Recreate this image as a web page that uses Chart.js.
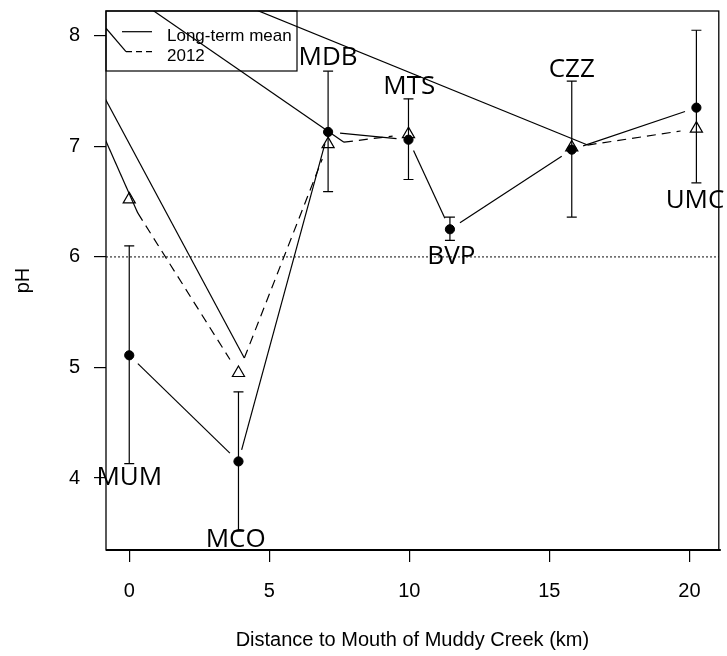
<!DOCTYPE html>
<html>
<head>
<meta charset="utf-8">
<script src="https://cdn.jsdelivr.net/npm/chart.js@4.4.1/dist/chart.umd.min.js"></script>
<style>
  html, body { margin: 0; padding: 0; background: #fff; }
</style>
</head>
<body>
<canvas id="ph-chart" width="727" height="656"></canvas>
<script>
const stations = ["MUM", "MCO", "MDB", "MTS", "BVP", "CZZ", "UMC"];
const distanceKm = [0, 3.9, 7.1, 9.97, 11.45, 15.8, 20.25];
const meanPH = [5.11, 4.15, 7.13, 7.06, 6.25, 6.97, 7.35];
const meanLow = [4.13, 3.52, 6.59, 6.70, 6.15, 6.36, 6.67];
const meanHigh = [6.10, 4.78, 7.68, 7.43, 6.36, 7.59, 8.05];
const ph2012 = [6.52, 4.95, 7.02, 7.11, null, 6.99, 7.16];
const labelX = [0, 3.8, 7.1, 10.0, 11.5, 15.8, 20.2];
const labelY = [4.0, 3.44, 7.8, 7.54, 6.0, 7.69, 6.51];
const xTicks = [0, 5, 10, 15, 20];
const yTicks = [4, 5, 6, 7, 8];
const refPH = 6;
// every dashed stroke gets a stray solid line running in from this point
const strayFrom = { x: -4.54, y: 9.17 };

const SANS = "Arial, 'Liberation Sans', sans-serif";
const LABEL_FONT = "26px 'Open Sans', 'Noto Sans', sans-serif";
const GAP_SOLID = 12;
const GAP_DASH = 16;
const DASH = [9, 6];

function toPixels(chart, ys) {
  const sx = chart.scales.x, sy = chart.scales.y;
  return ys.map((v, i) => v == null ? null : {
    x: sx.getPixelForValue(distanceKm[i]),
    y: sy.getPixelForValue(v),
  });
}

// segments between consecutive points, shortened so they stop short of each marker
function gapped(pts, gap) {
  const segs = [];
  for (let i = 0; i < pts.length - 1; i++) {
    const a = pts[i], b = pts[i + 1];
    if (!a || !b) continue;
    const dx = b.x - a.x, dy = b.y - a.y;
    const len = Math.hypot(dx, dy);
    if (len <= gap * 2) continue;
    const ux = dx / len, uy = dy / len;
    segs.push([a.x + ux * gap, a.y + uy * gap, b.x - ux * gap, b.y - uy * gap]);
  }
  return segs;
}

function line(ctx, x1, y1, x2, y2) {
  ctx.beginPath();
  ctx.moveTo(x1, y1);
  ctx.lineTo(x2, y2);
  ctx.stroke();
}

const plotExtras = {
  id: "plotExtras",
  beforeDatasetsDraw(chart) {
    const { ctx, chartArea: a, scales } = chart;
    ctx.save();
    ctx.beginPath();
    ctx.rect(a.left, a.top, a.right - a.left, a.bottom - a.top);
    ctx.clip();
    ctx.strokeStyle = "#000";
    ctx.lineWidth = 1.2;

    // reference line
    const yRef = scales.y.getPixelForValue(refPH);
    ctx.save();
    ctx.strokeStyle = "#444";
    ctx.lineWidth = 1.3;
    ctx.setLineDash([2, 2]);
    line(ctx, a.left, yRef, a.right, yRef);
    ctx.restore();

    // error bars
    distanceKm.forEach((d, i) => {
      const x = scales.x.getPixelForValue(d);
      const lo = scales.y.getPixelForValue(meanLow[i]);
      const hi = scales.y.getPixelForValue(meanHigh[i]);
      line(ctx, x, lo, x, hi);
      line(ctx, x - 5, lo, x + 5, lo);
      line(ctx, x - 5, hi, x + 5, hi);
    });

    // long-term mean
    gapped(toPixels(chart, meanPH), GAP_SOLID).forEach(s => line(ctx, ...s));

    // 2012
    const dashed = gapped(toPixels(chart, ph2012), GAP_DASH);
    ctx.save();
    ctx.setLineDash(DASH);
    dashed.forEach(s => line(ctx, ...s));
    ctx.restore();

    // stray strokes into each dashed segment and the legend sample
    const ox = scales.x.getPixelForValue(strayFrom.x);
    const oy = scales.y.getPixelForValue(strayFrom.y);
    dashed.forEach(s => line(ctx, ox, oy, s[0], s[1]));
    line(ctx, ox, oy, a.left + 20, a.top + 40.7);
    ctx.restore();
  },
  afterDraw(chart) {
    const { ctx, chartArea: a, scales } = chart;
    ctx.save();
    ctx.strokeStyle = "#000";
    ctx.fillStyle = "#000";

    // plot box
    ctx.lineWidth = 1.3;
    ctx.strokeRect(a.left, a.top, a.right - a.left, a.bottom - a.top);
    ctx.lineWidth = 2;
    line(ctx, a.left, a.bottom, a.right + 2, a.bottom);

    // legend
    ctx.lineWidth = 1.2;
    ctx.strokeRect(a.left, a.top, 191, 60);
    line(ctx, a.left + 16, a.top + 20.7, a.left + 46, a.top + 20.7);
    ctx.save();
    ctx.setLineDash([6, 4]);
    line(ctx, a.left + 20, a.top + 40.7, a.left + 46, a.top + 40.7);
    ctx.restore();
    ctx.font = "17px " + SANS;
    ctx.textAlign = "left";
    ctx.textBaseline = "alphabetic";
    ctx.fillText("Long-term mean", a.left + 61, a.top + 30);
    ctx.fillText("2012", a.left + 61, a.top + 50);

    // station names
    ctx.font = LABEL_FONT;
    ctx.textAlign = "center";
    ctx.textBaseline = "middle";
    stations.forEach((name, i) => {
      ctx.fillText(name, scales.x.getPixelForValue(labelX[i]), scales.y.getPixelForValue(labelY[i]));
    });
    ctx.restore();
  },
};

const axisGrid = { drawOnChartArea: false, drawTicks: true, tickLength: 12, color: "#000", lineWidth: 1.2 };

new Chart(document.getElementById("ph-chart"), {
  type: "scatter",
  data: {
    datasets: [
      {
        label: "Long-term mean",
        data: distanceKm.map((x, i) => ({ x, y: meanPH[i] })),
        pointStyle: "circle",
        pointRadius: 4.6,
        backgroundColor: "#000",
        borderColor: "#000",
        borderWidth: 1,
      },
      {
        label: "2012",
        data: distanceKm.map((x, i) => ({ x, y: ph2012[i] })),
        pointStyle: "triangle",
        pointRadius: 7,
        backgroundColor: "rgba(0,0,0,0)",
        borderColor: "#000",
        borderWidth: 1.2,
      },
    ],
  },
  options: {
    responsive: false,
    animation: false,
    devicePixelRatio: 1,
    layout: { padding: { top: 11, right: 5, left: 0, bottom: 0 } },
    plugins: { legend: { display: false }, tooltip: { enabled: false } },
    scales: {
      x: {
        type: "linear",
        min: -0.83,
        max: 21.05,
        afterBuildTicks: (s) => { s.ticks = xTicks.map(v => ({ value: v })); },
        afterFit: (s) => { s.height = 106; s.paddingLeft = 0; s.paddingRight = 0; },
        grid: axisGrid,
        border: { display: false },
        ticks: { color: "#000", font: { family: SANS, size: 20 }, padding: 17, maxRotation: 0, autoSkip: false },
        title: {
          display: true,
          text: "Distance to Mouth of Muddy Creek (km)",
          color: "#000",
          font: { family: SANS, size: 20 },
          padding: { top: 0, bottom: 4 },
        },
      },
      y: {
        type: "linear",
        min: 3.349,
        max: 8.224,
        afterBuildTicks: (s) => { s.ticks = yTicks.map(v => ({ value: v })); },
        afterFit: (s) => { s.width = 106; s.paddingTop = 0; s.paddingBottom = 0; },
        grid: axisGrid,
        border: { display: false },
        ticks: { color: "#000", font: { family: SANS, size: 20 }, padding: 14, autoSkip: false },
        title: {
          display: true,
          text: "pH",
          color: "#000",
          font: { family: SANS, size: 20 },
          padding: { top: 11, bottom: 0 },
        },
      },
    },
  },
  plugins: [plotExtras],
});
</script>
</body>
</html>
